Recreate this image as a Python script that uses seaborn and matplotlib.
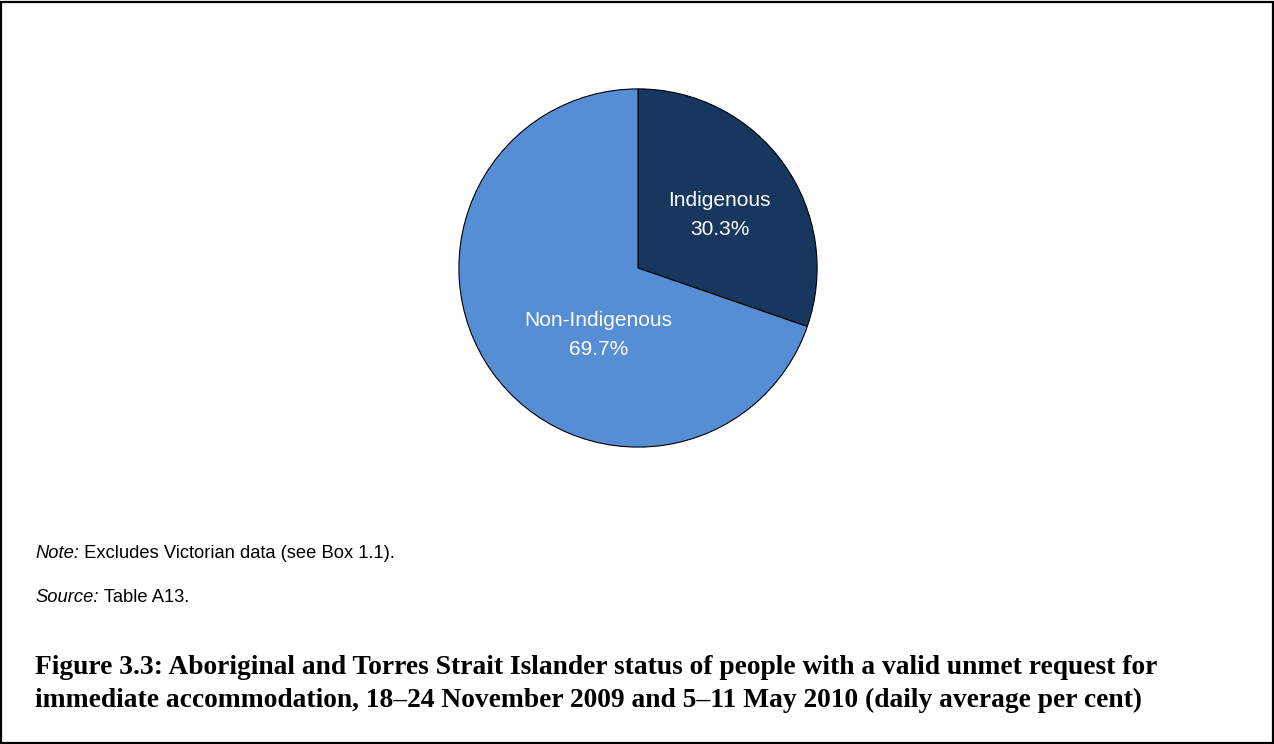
import matplotlib
matplotlib.use("Agg")
import matplotlib.pyplot as plt
import seaborn as sns
from matplotlib.patches import Rectangle

# Data
categories = ["Indigenous", "Non-Indigenous"]
shares = [30.3, 69.7]
slice_colors = ["#17375E", "#558ED5"]

note_label, note_text = "Note:", " Excludes Victorian data (see Box 1.1)."
source_label, source_text = "Source:", " Table A13."
title_lines = [
    "Figure 3.3: Aboriginal and Torres Strait Islander status of people with a valid unmet request for",
    "immediate accommodation, 18\u201324 November 2009 and 5\u201311 May 2010 (daily average per cent)",
]

sns.set_theme(style="white")
plt.rcParams["font.family"] = ["Liberation Sans", "DejaVu Sans"]
plt.rcParams["text.color"] = "black"

W, H = 1274, 744
fig = plt.figure(figsize=(W / 100, H / 100), dpi=100)
fig.patch.set_facecolor("white")

# Pie axes: centred at (638, 268) px with 180 px radius
cx, cy, r = 638, 268, 180
ax = fig.add_axes([(cx - r) / W, 1 - (cy + r) / H, 2 * r / W, 2 * r / H])
wedges, _ = ax.pie(
    shares,
    colors=slice_colors,
    startangle=90,
    counterclock=False,
    radius=1,
    wedgeprops=dict(edgecolor="black", linewidth=0.8),
)
ax.set_xlim(-1.005, 1.005)
ax.set_ylim(-1.005, 1.005)
ax.set_aspect("equal")
ax.axis("off")

# Slice labels
label_pos = {
    "Indigenous": (0.456, 0.378, 0.217),
    "Non-Indigenous": (-0.222, -0.294, -0.456),
}
for name, val in zip(categories, shares):
    x, y1, y2 = label_pos[name]
    ax.text(x, y1, name, ha="center", va="center", color="white", fontsize=15)
    ax.text(x, y2, f"{val:.1f}%", ha="center", va="center", color="white", fontsize=15)

fig.canvas.draw()
renderer = fig.canvas.get_renderer()

# Notes: italic lead-in followed by upright text
left = 35 / W
for (lead, body), ypx in [((note_label, note_text), 553), ((source_label, source_text), 597)]:
    t = fig.text(left, 1 - ypx / H, lead, style="italic", fontsize=13.2, va="center", ha="left")
    x1 = t.get_window_extent(renderer).x1 / W
    fig.text(x1, 1 - ypx / H, body, fontsize=13.2, va="center", ha="left")

# Caption, sized so the first line spans the text block width
serif = ["Liberation Serif", "DejaVu Serif"]
probe = fig.text(0, 0, title_lines[0], fontsize=10, fontweight="bold", family=serif)
w10 = probe.get_window_extent(renderer).width
probe.remove()
title_size = 10 * 1130 / w10
for i, line in enumerate(title_lines):
    fig.text(left, 1 - (668 + 32 * i) / H, line, fontsize=title_size, fontweight="bold",
             family=serif, va="center", ha="left")

# Outer frame
fig.patches.append(Rectangle((1 / W, 1 / H), 1 - 2.5 / W, 1 - 2.5 / H, transform=fig.transFigure,
                             fill=False, edgecolor="black", linewidth=1.6))

fig.savefig("out.png", dpi=100, facecolor="white")
